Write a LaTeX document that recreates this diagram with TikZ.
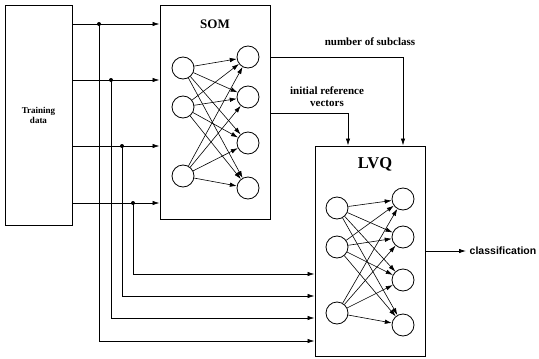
\documentclass[tikz,border=0pt]{standalone}
\usepackage{fontspec}
\setmainfont{Liberation Serif}
\newfontfamily\labelsans{Liberation Sans}
\usetikzlibrary{arrows.meta}

\begin{document}
\begin{tikzpicture}[x=1pt,y=-1pt,>={Latex[length=7pt,width=4.5pt]},line width=0.8pt,
  box/.style={draw,line width=1pt,inner sep=0pt},
  neuron/.style={draw,circle,minimum size=22pt,inner sep=0pt},
  link/.style={->,line width=0.6pt},
  lbl/.style={font=\bfseries\fontsize{11}{12}\selectfont}]
  \useasboundingbox (0,0) rectangle (539,359);
  \node[box,minimum width=67pt,minimum height=220pt,align=center,font=\bfseries\fontsize{9}{10}\selectfont] (train) at (38.5,115) {Training\\data};
  \node[box,minimum width=110pt,minimum height=214pt] (som) at (215,112) {};
  \node[box,minimum width=110pt,minimum height=210pt] (lvq) at (370,251) {};
  \node[font=\bfseries\fontsize{13}{15}\selectfont] (somlbl) at (215,24) {SOM};
  \node[font=\bfseries\fontsize{16.5}{18}\selectfont] (lvqlbl) at (375,164) {LVQ};
  \foreach \i/\y in {1/68,2/107,3/176}\node[neuron] (si\i) at (183,\y) {};
  \foreach \j/\y in {1/57,2/97,3/143,4/188}\node[neuron] (so\j) at (248,\y) {};
  \foreach \i/\y in {1/208,2/247,3/313}\node[neuron] (li\i) at (337,\y) {};
  \foreach \j/\y in {1/199,2/237,3/280,4/325}\node[neuron] (lo\j) at (403,\y) {};
  \foreach \i in {1,2,3}\foreach \j in {1,...,4}{\draw[link] (si\i) -- (so\j); \draw[link] (li\i) -- (lo\j);}
  \foreach \i/\y/\x/\yb in {1/24/99/341,2/80/111/318,3/146/122/296,4/203/133/274}{
    \coordinate (d\i) at (\x,\y);
    \fill (d\i) circle (2pt);
    \draw[->] (train.east |- d\i) -- (som.west |- d\i);
    \draw[->] (d\i) |- (lvq.west |- 0,\yb);
  }
  \draw[->] (som.east |- 0,57) -| (lvq.north -| 403,0);
  \draw[->] (som.east |- 0,113) -| (lvq.north -| 348,0);
  \node[lbl] (nsub) at (370,42) {number of subclass};
  \node[lbl,align=center] (irv) at (327,97) {initial reference\\vectors};
  \node[anchor=west,font=\labelsans\bfseries\fontsize{10.5}{12}\selectfont] (cls) at (466,251) {classification};
  \draw[->] (lvq.east |- cls) -- (cls.west);
\end{tikzpicture}
\end{document}
